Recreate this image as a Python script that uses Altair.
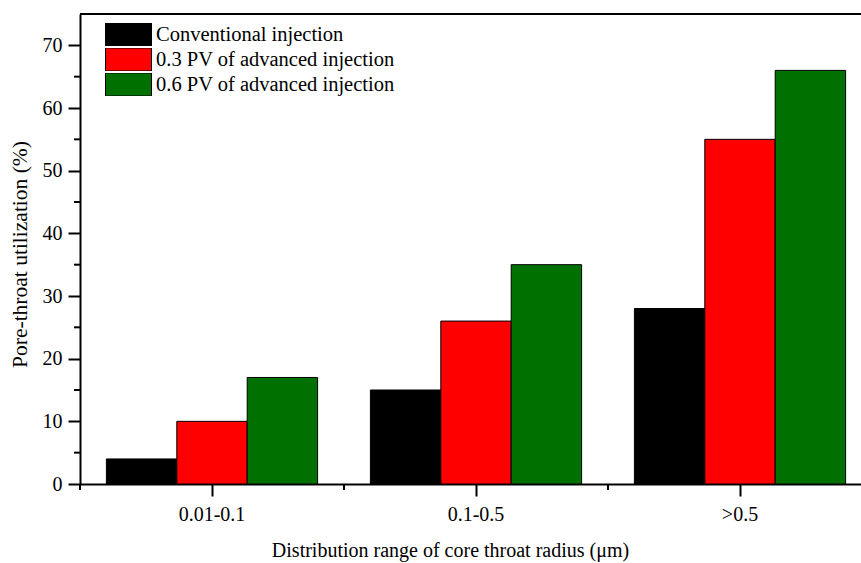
import altair as alt
import pandas as pd

categories = ["0.01-0.1", "0.1-0.5", ">0.5"]
series = ["Conventional injection", "0.3 PV of advanced injection", "0.6 PV of advanced injection"]
conventional = [4, 15, 28]
pv03 = [10, 26, 55]
pv06 = [17, 35, 66]
colors = ["#000000", "#ff0000", "#007000"]
y_ticks = [0, 10, 20, 30, 40, 50, 60, 70]
y_minor = [5, 15, 25, 35, 45, 55, 65]

rows = []
for s, vals in zip(series, [conventional, pv03, pv06]):
    for c, v in zip(categories, vals):
        rows.append({"cat": c, "series": s, "value": v})
df = pd.DataFrame(rows)
df_cat = pd.DataFrame({"cat": categories})
df_minor = pd.DataFrame({"v": y_minor})

FONT = "Liberation Serif"

xscale = alt.Scale(domain=categories, range=[0, 792], paddingInner=0, paddingOuter=0)
yscale = alt.Scale(domain=[0, 75], nice=False, zero=True)

bars = alt.Chart(df).mark_bar(stroke="black", strokeWidth=1, opacity=1).encode(
    x=alt.X("cat:N", scale=xscale, sort=categories,
            axis=alt.Axis(title="Distribution range of core throat radius (μm)",
                          labelAngle=0, labelFont=FONT, labelFontSize=20, labelColor="black",
                          labelPadding=8, tickSize=12, tickWidth=2, tickColor="black",
                          domainColor="black", domainWidth=2,
                          titleFont=FONT, titleFontSize=20, titleFontWeight="normal",
                          titleColor="black", titleX=370, titleY=66, titleBaseline="middle",
                          titleAnchor="middle", titleAlign="center")),
    xOffset=alt.XOffset("series:N", sort=series,
                        scale=alt.Scale(domain=series, paddingInner=0, paddingOuter=0.375)),
    y=alt.Y("value:Q", scale=yscale,
            axis=alt.Axis(title="Pore-throat utilization (%)", values=y_ticks,
                          labelFont=FONT, labelFontSize=20, labelColor="black",
                          labelPadding=6, tickSize=12, tickWidth=2, tickColor="black",
                          domainColor="black", domainWidth=2, grid=False,
                          titleFont=FONT, titleFontSize=21.5, titleFontWeight="normal",
                          titleColor="black", titleX=-60, titleY=240, titleBaseline="middle",
                          titleAngle=-90, titleAlign="center")),
    color=alt.Color("series:N", sort=series,
                    scale=alt.Scale(domain=series, range=colors),
                    legend=alt.Legend(title=None, orient="none", legendX=25, legendY=9,
                                      symbolType="M-1,-0.5L1,-0.5L1,0.5L-1,0.5Z", symbolSize=2116,
                                      symbolStrokeColor="black", symbolStrokeWidth=1,
                                      symbolOpacity=1, labelFont=FONT, labelFontSize=20.5,
                                      labelColor="black", rowPadding=2, labelOffset=4,
                                      clipHeight=23, padding=0, labelLimit=400)),
)

minor_y = alt.Chart(df_minor).mark_rule(color="black", strokeWidth=2).encode(
    y=alt.Y("v:Q", scale=yscale),
    x=alt.value(-6), x2=alt.value(0),
)

minor_x = alt.Chart(df_cat).mark_rule(color="black", strokeWidth=2).encode(
    x=alt.X("cat:N", scale=xscale, sort=categories, bandPosition=0),
    y=alt.value(470), y2=alt.value(476),
)

top_line = alt.Chart(df_cat).mark_rule(color="black", strokeWidth=2).encode(
    x=alt.value(0), x2=alt.value(800), y=alt.value(0),
)

chart = alt.layer(bars, minor_y, minor_x, top_line).properties(
    width=781, height=470,
    autosize=alt.AutoSizeParams(type="none"),
    padding={"left": 80, "top": 14, "right": 0, "bottom": 79},
).configure_view(stroke=None).configure(background="white")

chart.save("out.html", embed_options={"renderer": "svg", "actions": False})
